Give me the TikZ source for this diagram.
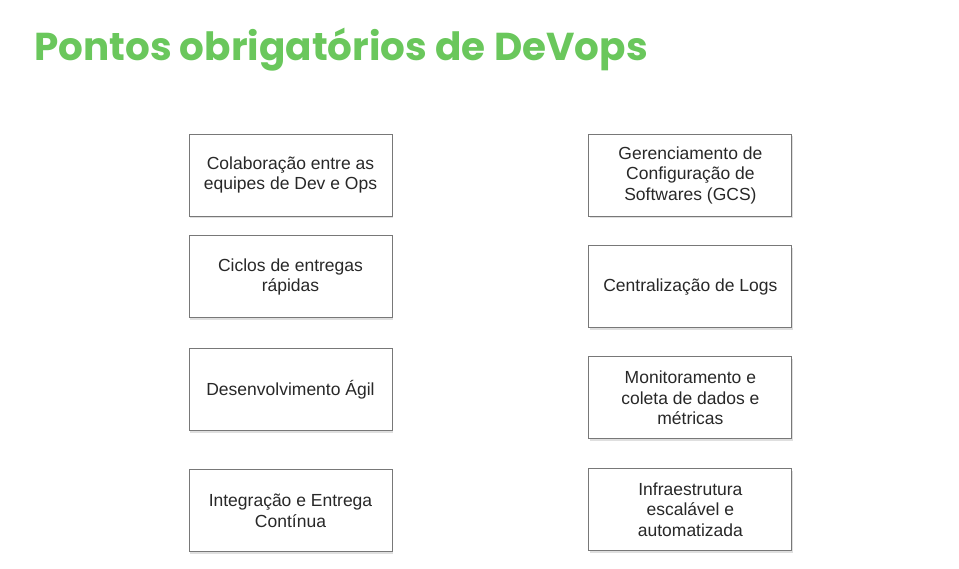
\documentclass[tikz,border=0pt]{standalone}
\usepackage{fontspec}
\setmainfont{Liberation Sans}
\newfontfamily\titlefont{Poppins}
\usepackage{tikz}
\definecolor{titlegreen}{RGB}{106, 199, 92}
\definecolor{boxborder}{RGB}{120, 120, 120}
\definecolor{boxtext}{RGB}{40, 40, 40}
\usetikzlibrary{
  positioning,
  shadows,
}
\tikzset{
  pontobox/.style={draw=boxborder,line width=0.9pt,rectangle,fill=white,
    minimum width=203pt,minimum height=82pt,align=center,text=boxtext,
    font=\fontsize{17.5}{20.5}\selectfont,
    drop shadow={shadow xshift=1pt,shadow yshift=-2pt,opacity=0.25}},
}

\begin{document}
\begin{tikzpicture}[x=1pt,y=-1pt]
        \useasboundingbox (0,0) rectangle (959,569);
        \node[anchor=base west,inner sep=0pt,text=titlegreen,font=\titlefont\bfseries\fontsize{38.9}{44}\selectfont] (titulo) at (34,61) {Pontos obrigatórios de DeVops};

        \node[pontobox]    (l1)   at (290.5,175)     {Colaboração entre as\\equipes de Dev e Ops};
        \node[pontobox]    (l2)   [below=19pt of l1]  {Ciclos de entregas\\rápidas};
        \node[pontobox]    (l3)   [below=30pt of l2]  {Desenvolvimento Ágil};
        \node[pontobox]    (l4)   [below=38pt of l3]  {Integração e Entrega\\Contínua};

        \node[pontobox]    (r1)   [right=196pt of l1] {Gerenciamento de\\Configuração de\\Softwares (GCS)};
        \node[pontobox]    (r2)   [below=29pt of r1]  {Centralização de Logs};
        \node[pontobox]    (r3)   [below=28pt of r2]  {Monitoramento e\\coleta de dados e\\métricas};
        \node[pontobox]    (r4)   [below=29pt of r3]  {Infraestrutura\\escalável e\\automatizada};
    \end{tikzpicture}
\end{document}
